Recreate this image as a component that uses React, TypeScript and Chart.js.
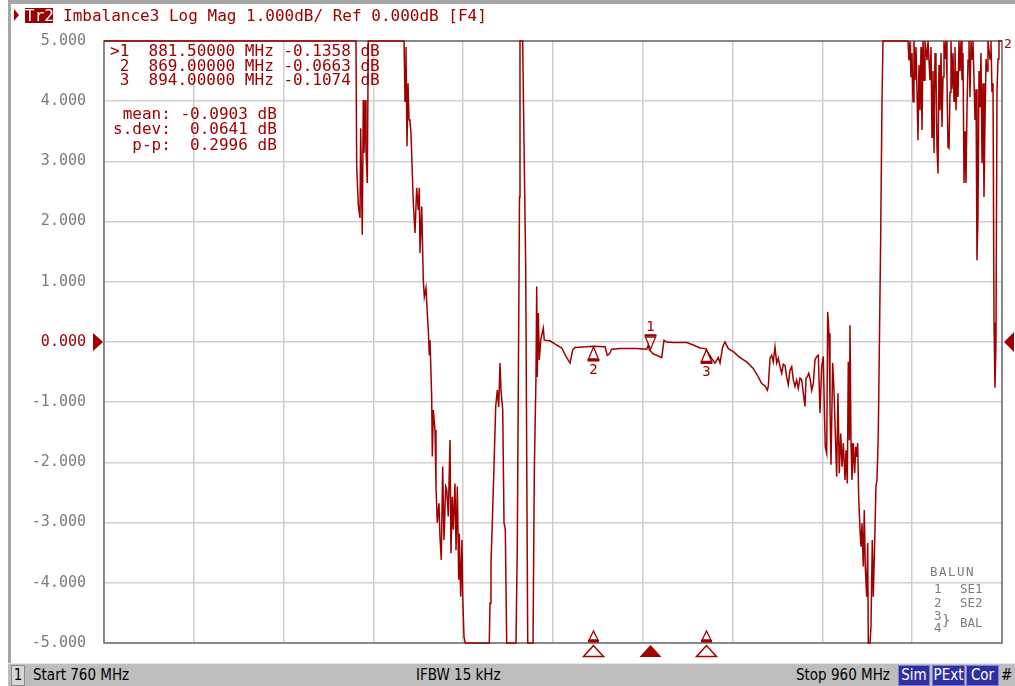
import React, { useEffect, useRef } from "react";
import { Chart, registerables } from "chart.js";

Chart.register(...registerables);

// Trace 2: Imbalance3, Log Mag (dB) vs frequency (MHz)
const FREQ_MHZ = [
  760.0, 816.12, 816.28, 816.63, 817.01, 817.17, 817.52, 817.75, 817.91, 818.13, 818.35, 818.64, 818.86,
  826.82, 827.04, 827.26, 827.48, 827.71, 827.93, 828.15, 828.37, 828.89, 829.26, 829.64, 830.0, 830.22,
  830.38, 830.76, 831.11, 831.34, 831.71, 832.0, 832.23, 832.45, 832.61, 832.98, 833.12, 833.34, 833.72,
  833.94, 834.23, 834.61, 834.83, 835.12, 835.43, 835.72, 836.1, 836.33, 836.68, 837.06, 837.28, 837.57,
  837.8, 838.17, 838.4, 838.69, 839.0, 839.13, 839.44, 839.73, 839.89, 840.18, 840.47,
  845.81, 845.97, 846.19, 846.57, 846.86, 847.24, 847.6, 847.91, 848.2, 848.42, 848.8, 849.09, 849.38, 849.69,
  851.76, 852.05, 852.54, 852.65, 853.25, 853.43, 853.92, 854.37, 855.55, 855.84, 856.21, 856.37, 856.5,
  856.73, 856.95, 857.26, 857.84, 858.06, 859.33, 860.82, 861.94, 862.9, 863.79, 864.39, 864.9, 867.51,
  869.0, 871.58, 872.09, 872.54, 873.07, 874.92, 878.64, 880.87, 881.22, 881.5, 881.75, 882.34, 883.09,
  884.21, 884.72, 885.32, 886.79, 889.78, 891.25, 892.74, 894.0, 895.32, 896.08, 896.81, 897.2, 897.79,
  898.31, 899.04, 900.16, 901.65, 903.14, 904.61, 905.72, 906.48, 907.22, 907.73, 907.95, 908.33, 908.71,
  909.06, 909.44, 909.82, 910.18, 910.56, 910.93, 911.29, 911.67, 912.05, 912.4, 912.78, 913.16, 913.52,
  913.9, 914.27, 914.63, 915.01, 915.39, 915.75, 916.12, 916.35, 916.64, 916.95, 917.24, 917.62, 917.97,
  918.35, 918.73, 919.09, 919.47, 919.84, 920.2, 920.42, 920.64, 920.96, 921.18, 921.47, 921.69, 921.92,
  922.29, 922.58, 922.87, 923.18, 923.47, 923.76, 924.08, 924.37, 924.66, 925.04, 925.26, 925.55, 925.77,
  926.0, 926.15, 926.37, 926.59, 926.88, 927.19, 927.42, 927.64, 927.86, 928.08, 928.37, 928.6, 928.82,
  929.11, 929.33, 929.55, 929.86, 930.09, 930.22, 930.6, 930.82, 931.11, 931.33, 931.64, 931.93, 932.16,
  932.45, 932.67, 932.98, 933.27, 933.49,
  939.06, 939.28, 939.51, 939.73, 939.95, 940.18, 940.4, 940.62, 940.85, 941.07, 941.29, 941.51, 941.74,
  941.96, 942.18, 942.41, 942.63, 942.85, 943.3, 943.52, 943.96, 944.19, 944.41, 944.63, 944.86, 945.08,
  945.3, 945.52, 945.75, 945.97, 946.19, 946.42, 946.64, 946.86, 947.08, 947.31, 947.53, 947.75, 947.97,
  948.2, 948.42, 948.64, 948.86, 949.09, 949.31, 949.53, 949.76, 949.98, 950.2, 950.42, 950.65, 950.87,
  951.09, 951.31, 951.54, 951.76, 951.98, 952.2, 952.43, 952.65, 952.87, 953.1, 953.32, 953.54, 953.99,
  954.21, 954.43, 954.65, 954.88, 955.1, 955.32, 955.55, 955.77, 955.99, 956.21, 956.44, 956.66, 956.88,
  957.33, 957.55, 957.77, 958.0, 958.22, 958.44, 958.66, 958.88, 959.11, 959.33, 960.0,
];

const IMBALANCE_DB = [
  5, 5, 2.92, 2.28, 2.06, 3.55, 1.78, 4.02, 3.14, 4.02, 3.19, 2.64, 5,
  5, 4.0, 4.9, 3.25, 4.3, 3.7, 3.66, 3.47, 2.31, 1.81, 2.56, 2.19, 2.56,
  1.48, 2.25, 1.03, 0.75, 0.9, 0.48, 0.2, -0.22, 0.03, -0.91, -1.9, -1.13, -1.46,
  -2.4, -3.0, -2.68, -3.24, -3.62, -2.07, -3.29, -2.4, -2.45, -2.9, -1.63, -3.51, -2.57,
  -3.12, -2.35, -3.46, -2.4, -3.95, -3.18, -4.23, -3.29, -4.23, -4.9, -5,
  -5, -4.34, -3.67, -2.79, -2.07, -1.07, -0.8, -1.08, -0.35, -0.8, -1.13, -3.0, -3.12, -5,
  -5, -3.37, 2.41, 5, 5, 3.94, 1.25, -5, -5, -2.15, -0.58, 0.92, -0.58,
  0.48, -0.3, 0.03, 0.23, 0.03, 0.02, -0.05, -0.1, -0.24, -0.35, -0.13, -0.09, -0.08,
  -0.07, -0.08, -0.22, -0.2, -0.12, -0.11, -0.11, -0.12, -0.05, -0.14, -0.15, -0.2, -0.22,
  -0.26, 0.03, 0.0, -0.01, -0.01, -0.05, -0.1, -0.11, -0.27, -0.35, -0.26, -0.35, -0.08,
  0.0, -0.11, -0.16, -0.26, -0.33, -0.44, -0.58, -0.69, -0.73, -0.8, -0.74, -0.27, -0.22,
  -0.33, -0.08, -0.35, -0.27, -0.41, -0.52, -0.37, -0.39, -0.58, -0.71, -0.47, -0.41, -0.63,
  -0.74, -0.63, -0.77, -0.6, -0.63, -0.85, -1.07, -0.6, -0.58, -0.52, -0.6, -0.8, -0.69,
  -0.3, -0.24, -0.22, -1.18, -0.41, -0.24, -1.07, -1.74, -1.85, 0.5, 0.14, -1.07, -2.04,
  -0.35, -0.8, -1.51, -2.24, -0.85, -2.18, -1.52, -2.07, -1.68, -2.29, -1.8, -2.35, -0.33,
  -1.63, 0.28, -1.68, -2.29, -1.68, -2.18, -1.74, -1.91, -1.68, -2.57, -3.12, -3.4, -3.01,
  -3.73, -2.79, -3.73, -4.23, -3.34, -5, -5, -4.73, -3.29, -4.23, -3.34, -2.4, -2.29,
  -1.52, -0.19, 1.75, 3.97, 5,
  5, 4.68, 5, 4.4, 4.8, 3.99, 5, 4.35, 4.9, 4.15, 3.35, 4.6, 3.85,
  4.9, 3.52, 5, 4.35, 5, 4.68, 5, 4.35, 4.9, 3.4, 4.5, 3.14, 4.8,
  4.5, 3.24, 2.8, 4.6, 3.85, 4.8, 3.57, 4.4, 5, 4.7, 5, 4.35, 3.24,
  3.22, 4.15, 5, 4.2, 4.8, 4.0, 4.9, 3.85, 4.5, 4.07, 5, 4.5, 5,
  4.35, 4.8, 2.64, 3.5, 2.64, 3.85, 4.68, 5, 4.07, 5, 4.7, 5, 3.69,
  4.2, 1.36, 2.08, 4.5, 3.9, 4.8, 2.97, 4.3, 2.41, 3.64, 4.7, 4.5, 5,
  4.7, 5, 4.15, 4.3, 0.32, -0.76, 0.0, 4.15, 4.7, 5, 5,
];

const MARKER_FREQ = [881.5, 869.0, 894.0];
const MARKER_DB = [-0.1358, -0.0663, -0.1074];
const MARKER_NAMES = ["1", "2", "3"];
const ACTIVE_MARKER = 0;
const REF_LEVEL = 0;

const Y_MIN = -5;
const Y_MAX = 5;
const Y_STEP = 1;
const X_START = 760;
const X_STOP = 960;
const X_STEP = 20;

const READOUT_LINES = [
  ">1  881.50000 MHz -0.1358 dB",
  " 2  869.00000 MHz -0.0663 dB",
  " 3  894.00000 MHz -0.1074 dB",
];
const STAT_LINES = [" mean: -0.0903 dB", "s.dev:  0.0641 dB", "  p-p:  0.2996 dB"];

const RED = "#a00000";
const GRAY_TXT = "#7c7c7c";
const MONO = "'DejaVu Sans Mono', monospace";

const markerPlugin = {
  id: "vnaMarkers",
  beforeDatasetsDraw(chart: any) {
    const { ctx, chartArea: a } = chart;
    ctx.save();
    ctx.strokeStyle = "#6e6e6e";
    ctx.lineWidth = 1.5;
    ctx.strokeRect(a.left, a.top, a.right - a.left, a.bottom - a.top);
    ctx.restore();
  },
  afterDatasetsDraw(chart: any) {
    const { ctx, chartArea: a, scales } = chart;
    const xs = scales.x;
    const ys = scales.y;
    ctx.save();
    ctx.strokeStyle = RED;
    ctx.fillStyle = RED;
    ctx.lineWidth = 1.3;
    ctx.font = "14px 'DejaVu Sans Mono'";
    ctx.textAlign = "center";
    ctx.textBaseline = "middle";
    MARKER_FREQ.forEach((f, i) => {
      const x = Math.round(xs.getPixelForValue(f)) + 0.5;
      const y = ys.getPixelForValue(MARKER_DB[i]);
      if (i === ACTIVE_MARKER) {
        ctx.beginPath();
        ctx.moveTo(x, y - 1);
        ctx.lineTo(x - 5, y - 13);
        ctx.lineTo(x + 5, y - 13);
        ctx.closePath();
        ctx.stroke();
        ctx.fillRect(x - 6, y - 16, 12, 2.5);
        ctx.fillText(MARKER_NAMES[i], x, y - 23);
        // bottom filled marker
        ctx.beginPath();
        ctx.moveTo(x, a.bottom + 2);
        ctx.lineTo(x - 11, a.bottom + 14);
        ctx.lineTo(x + 11, a.bottom + 14);
        ctx.closePath();
        ctx.fill();
      } else {
        ctx.beginPath();
        ctx.moveTo(x, y + 1);
        ctx.lineTo(x - 5, y + 13);
        ctx.lineTo(x + 5, y + 13);
        ctx.closePath();
        ctx.stroke();
        ctx.fillRect(x - 6, y + 13, 12, 2.5);
        ctx.fillText(MARKER_NAMES[i], x, y + 24);
        // small marker above axis
        ctx.beginPath();
        ctx.moveTo(x, a.bottom - 12);
        ctx.lineTo(x - 4.5, a.bottom - 3);
        ctx.lineTo(x + 4.5, a.bottom - 3);
        ctx.closePath();
        ctx.stroke();
        ctx.fillRect(x - 5.5, a.bottom - 3, 11, 2.5);
        // outlined marker below axis
        ctx.lineWidth = 1.5;
        ctx.beginPath();
        ctx.moveTo(x, a.bottom + 2.5);
        ctx.lineTo(x - 10, a.bottom + 13.5);
        ctx.lineTo(x + 10, a.bottom + 13.5);
        ctx.closePath();
        ctx.stroke();
        ctx.lineWidth = 1.3;
      }
    });
    // reference level arrows
    const yr = ys.getPixelForValue(REF_LEVEL);
    ctx.beginPath();
    ctx.moveTo(a.left - 1, yr);
    ctx.lineTo(a.left - 11, yr - 9);
    ctx.lineTo(a.left - 11, yr + 9);
    ctx.closePath();
    ctx.fill();
    ctx.beginPath();
    ctx.moveTo(a.right + 2, yr);
    ctx.lineTo(a.right + 12, yr - 10);
    ctx.lineTo(a.right + 12, yr + 10);
    ctx.closePath();
    ctx.fill();
    ctx.restore();
  },
};

const abs = (l: number, t: number, extra: any = {}) => ({
  position: "absolute" as const,
  left: l,
  top: t,
  ...extra,
});

export default function App() {
  const canvasRef = useRef<HTMLCanvasElement | null>(null);

  useEffect(() => {
    if (!canvasRef.current) return;
    const chart = new Chart(canvasRef.current, {
      type: "line",
      data: {
        datasets: [
          {
            data: FREQ_MHZ.map((f, i) => ({ x: f, y: IMBALANCE_DB[i] })),
            borderColor: RED,
            borderWidth: 1.5,
            pointRadius: 0,
            tension: 0,
            fill: false,
            clip: { left: 0, top: 1, right: 0, bottom: 1 } as any,
          },
        ],
      },
      options: {
        animation: false,
        responsive: false,
        devicePixelRatio: 1,
        events: [],
        layout: { padding: { left: 0, top: 41, right: 13, bottom: 0 } },
        plugins: { legend: { display: false }, tooltip: { enabled: false } },
        scales: {
          x: {
            type: "linear",
            min: X_START,
            max: X_STOP,
            ticks: { display: false, stepSize: X_STEP },
            grid: { color: "#cfcfcf", lineWidth: 1.5, drawTicks: false },
            border: { display: false },
            afterFit: (s: any) => {
              s.height = 43;
            },
          },
          y: {
            type: "linear",
            min: Y_MIN,
            max: Y_MAX,
            ticks: {
              stepSize: Y_STEP,
              padding: 18,
              callback: (v: any) => Number(v).toFixed(3),
              color: (c: any) => (c.tick && c.tick.value === REF_LEVEL ? RED : GRAY_TXT),
              font: { family: "DejaVu Sans Mono", size: 15 },
            },
            grid: { color: "#cfcfcf", lineWidth: 1.5, drawTicks: false },
            border: { display: false },
            afterFit: (s: any) => {
              s.width = 104;
            },
          },
        },
      },
      plugins: [markerPlugin],
    });
    return () => chart.destroy();
  }, []);

  const mono16 = { fontFamily: MONO, fontSize: 16, color: RED, whiteSpace: "pre" as const };
  const bar = { fontFamily: "'Liberation Sans Narrow', 'DejaVu Sans Condensed', sans-serif", fontSize: 15, color: "#000", whiteSpace: "pre" as const, lineHeight: "23px" };
  const blueBox = (l: number, w: number) =>
    abs(l, 665, {
      width: w,
      height: 19,
      background: "#2f2fa4",
      border: "1px solid #8080d0",
      color: "#fff",
      fontFamily: "'Liberation Sans Narrow', 'DejaVu Sans Condensed', sans-serif",
      fontSize: 15,
      lineHeight: "19px",
      textAlign: "center",
    });
  const legend = { fontFamily: MONO, fontSize: 12.5, color: GRAY_TXT, whiteSpace: "pre" as const, lineHeight: "13px" };

  return (
    <div style={abs(0, 0, { width: 1015, height: 686, background: "#fff", overflow: "hidden" })}>
      <canvas ref={canvasRef} width={1015} height={686} style={abs(0, 0, { width: 1015, height: 686 })} />
      {/* window frame */}
      <div style={abs(8, 0, { width: 1007, height: 4, background: "#a6a6a6" })} />
      <div style={abs(8, 0, { width: 3, height: 663, background: "#a6a6a6" })} />
      {/* header */}
      <div
        style={abs(14, 9, {
          width: 0,
          height: 0,
          borderTop: "6px solid transparent",
          borderBottom: "6px solid transparent",
          borderLeft: `5px solid ${RED}`,
        })}
      />
      <div style={abs(25, 8, { width: 28, height: 15, background: "#990000", ...mono16, color: "#fff", lineHeight: "15px", textAlign: "center" })}>Tr2</div>
      <div style={abs(63, 7, { ...mono16, lineHeight: "18px" })}>Imbalance3 Log Mag 1.000dB/ Ref 0.000dB [F4]</div>
      {/* marker readout */}
      {READOUT_LINES.map((t, i) => (
        <div key={"r" + i} style={abs(110, 43 + i * 14.5, { ...mono16, lineHeight: "15px" })}>
          {t}
        </div>
      ))}
      {STAT_LINES.map((t, i) => (
        <div key={"s" + i} style={abs(113, 106 + i * 15.3, { ...mono16, lineHeight: "15px" })}>
          {t}
        </div>
      ))}
      <div style={abs(1004, 37, { fontFamily: MONO, fontSize: 13, color: RED, lineHeight: "14px" })}>2</div>
      {/* BALUN legend */}
      <div style={abs(930, 565, { ...legend, letterSpacing: 1.5 })}>BALUN</div>
      <div style={abs(934, 582, legend)}>1</div>
      <div style={abs(960, 582, legend)}>SE1</div>
      <div style={abs(934, 596, legend)}>2</div>
      <div style={abs(960, 596, legend)}>SE2</div>
      <div style={abs(934, 609, legend)}>3</div>
      <div style={abs(934, 621, legend)}>4</div>
      <div style={abs(942, 612, { ...legend, fontSize: 14, lineHeight: "16px" })}>{"}"}</div>
      <div style={abs(960, 616, legend)}>BAL</div>
      {/* status bar */}
      <div style={abs(8, 663, { width: 1007, height: 23, background: "#bdbdbd", borderTop: "1px solid #e6e6e6", boxSizing: "border-box" })} />
      <div style={abs(11, 665, { width: 12, height: 19, background: "#d6d6d6", border: "1px solid #8a8a8a", ...bar, lineHeight: "19px", textAlign: "center" })}>1</div>
      <div style={abs(33, 664, bar)}>Start 760 MHz</div>
      <div style={abs(416, 664, bar)}>IFBW 15 kHz</div>
      <div style={abs(796, 664, bar)}>Stop 960 MHz</div>
      <div style={blueBox(898, 30)}>Sim</div>
      <div style={blueBox(932, 31)}>PExt</div>
      <div style={blueBox(966, 31)}>Cor</div>
      <div style={abs(1001, 664, bar)}>#</div>
    </div>
  );
}
